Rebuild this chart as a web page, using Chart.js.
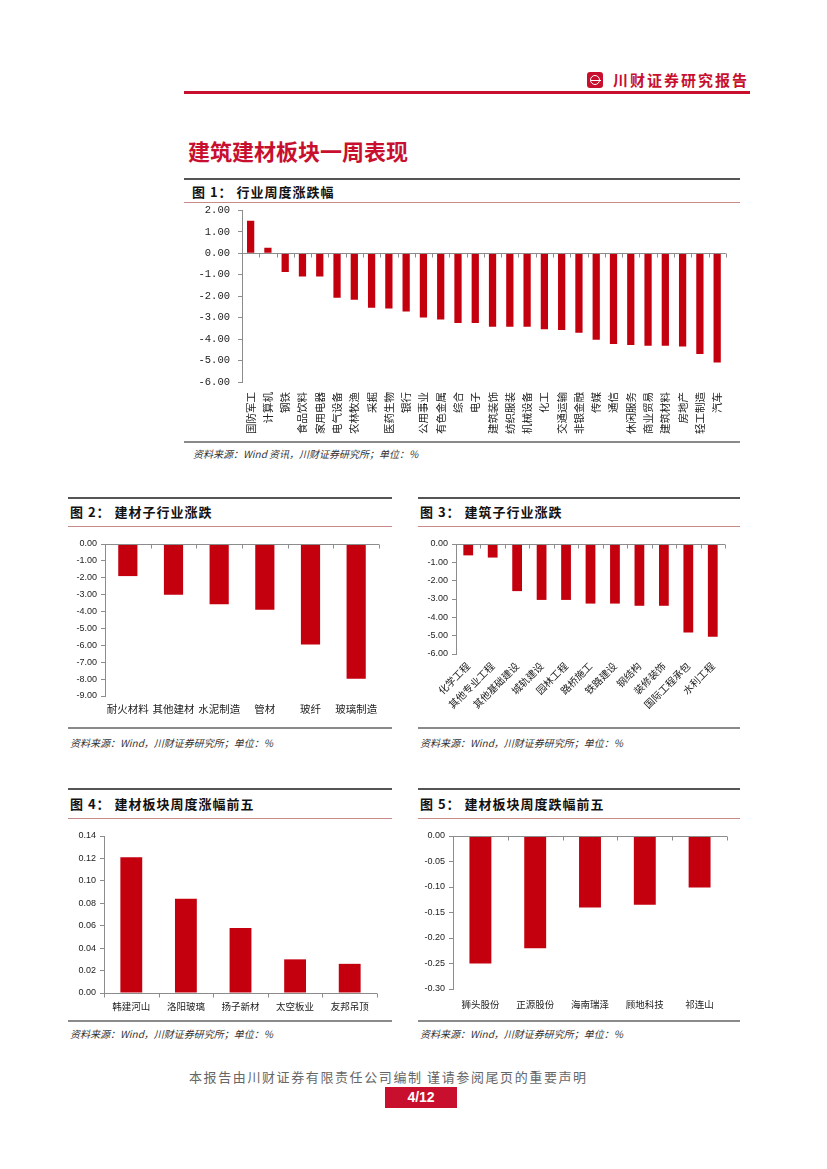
<!DOCTYPE html>
<html>
<head>
<meta charset="utf-8">
<script src="https://cdn.jsdelivr.net/npm/chart.js@4.4.0/dist/chart.umd.min.js"></script>
<style>
  body { margin: 0; background: #fff; }
  #page { position: relative; width: 827px; height: 1169px; background: #fff; overflow: hidden;
          font-family: "Noto Sans CJK SC", "Noto Sans", sans-serif; }
  .abs { position: absolute; }
  .line { position: absolute; }
  .figtitle { position: absolute; font-size: 13px; font-weight: bold; color: #111; letter-spacing: 1px; line-height: 16px; }
  .src { position: absolute; font-size: 10px; font-style: italic; color: #333; line-height: 12px; }
  .box { position: absolute; }
</style>
</head>
<body>
<div id="page">
  <!-- header -->
  <div class="abs" style="left:587px;top:72px;width:16px;height:16px;background:#c8102e;border-radius:3px;"></div>
  <div class="abs" style="left:590px;top:75px;width:8px;height:8px;border:1.5px solid #fff;border-radius:50%;"></div>
  <div class="abs" style="left:591px;top:79.5px;width:10px;height:1.5px;background:#fff;"></div>
  <div class="abs" style="left:613px;top:70px;font-size:15px;color:#c8102e;letter-spacing:2px;line-height:20px;font-weight:bold;">川财证券研究报告</div>
  <div class="line" style="left:184px;top:91px;width:566px;height:3px;background:#c8102e;"></div>

  <div class="abs" style="left:188px;top:136px;font-size:22px;font-weight:bold;color:#c8102e;line-height:28px;">建筑建材板块一周表现</div>

  <!-- figure 1 -->
  <div class="line" style="left:184px;top:178px;width:556px;height:2px;background:#555;"></div>
  <div class="figtitle" style="left:192px;top:184px;">图 1： 行业周度涨跌幅</div>
  <div class="line" style="left:184px;top:202px;width:556px;height:1px;background:#c98a8a;"></div>
  <div class="box" style="left:184px;top:196px;"><canvas id="c1" width="556" height="244"></canvas></div>
  <div class="line" style="left:184px;top:441px;width:556px;height:2px;background:#8a8a8a;"></div>
  <div class="src" style="left:193px;top:448px;">资料来源：Wind 资讯，川财证券研究所；单位：%</div>

  <!-- figure 2 -->
  <div class="line" style="left:68px;top:497px;width:324px;height:2px;background:#555;"></div>
  <div class="figtitle" style="left:70px;top:504px;">图 2： 建材子行业涨跌</div>
  <div class="line" style="left:68px;top:526px;width:324px;height:1px;background:#c98a8a;"></div>
  <div class="box" style="left:68px;top:530px;"><canvas id="c2" width="324" height="190"></canvas></div>
  <div class="line" style="left:68px;top:727px;width:324px;height:2px;background:#8a8a8a;"></div>
  <div class="src" style="left:70px;top:737px;">资料来源：Wind，川财证券研究所；单位：%</div>

  <!-- figure 3 -->
  <div class="line" style="left:418px;top:497px;width:322px;height:2px;background:#555;"></div>
  <div class="figtitle" style="left:420px;top:504px;">图 3： 建筑子行业涨跌</div>
  <div class="line" style="left:418px;top:526px;width:322px;height:1px;background:#c98a8a;"></div>
  <div class="box" style="left:418px;top:530px;"><canvas id="c3" width="322" height="194"></canvas></div>
  <div class="line" style="left:418px;top:727px;width:322px;height:2px;background:#8a8a8a;"></div>
  <div class="src" style="left:420px;top:737px;">资料来源：Wind，川财证券研究所；单位：%</div>

  <!-- figure 4 -->
  <div class="line" style="left:68px;top:788px;width:324px;height:2px;background:#555;"></div>
  <div class="figtitle" style="left:70px;top:796px;">图 4： 建材板块周度涨幅前五</div>
  <div class="line" style="left:68px;top:818px;width:324px;height:1px;background:#c98a8a;"></div>
  <div class="box" style="left:68px;top:822px;"><canvas id="c4" width="324" height="195"></canvas></div>
  <div class="line" style="left:68px;top:1020px;width:324px;height:2px;background:#8a8a8a;"></div>
  <div class="src" style="left:70px;top:1028px;">资料来源：Wind，川财证券研究所；单位：%</div>

  <!-- figure 5 -->
  <div class="line" style="left:418px;top:788px;width:322px;height:2px;background:#555;"></div>
  <div class="figtitle" style="left:420px;top:796px;">图 5： 建材板块周度跌幅前五</div>
  <div class="line" style="left:418px;top:818px;width:322px;height:1px;background:#c98a8a;"></div>
  <div class="box" style="left:418px;top:822px;"><canvas id="c5" width="322" height="195"></canvas></div>
  <div class="line" style="left:418px;top:1020px;width:322px;height:2px;background:#8a8a8a;"></div>
  <div class="src" style="left:420px;top:1028px;">资料来源：Wind，川财证券研究所；单位：%</div>

  <!-- footer -->
  <div class="abs" style="left:189px;top:1069px;font-size:13px;color:#666;letter-spacing:1.6px;line-height:16px;">本报告由川财证券有限责任公司编制 谨请参阅尾页的重要声明</div>
  <div class="abs" style="left:385px;top:1087px;width:72px;height:21px;background:#c8102e;color:#fff;font-family:'Liberation Sans',sans-serif;font-weight:bold;font-size:14px;line-height:21px;text-align:center;">4/12</div>
</div>

<script>
const industryLabels = ['国防军工', '计算机', '钢铁', '食品饮料', '家用电器', '电气设备', '农林牧渔', '采掘',
  '医药生物', '银行', '公用事业', '有色金属', '综合', '电子', '建筑装饰', '纺织服装', '机械设备', '化工',
  '交通运输', '非银金融', '传媒', '通信', '休闲服务', '商业贸易', '建筑材料', '房地产', '轻工制造', '汽车'];
const industryValues = [1.51, 0.25, -0.88, -1.09, -1.09, -2.08, -2.17, -2.54, -2.58, -2.71, -3.0, -3.09,
  -3.25, -3.25, -3.42, -3.42, -3.42, -3.54, -3.58, -3.71, -4.03, -4.23, -4.28, -4.31, -4.31, -4.35, -4.69, -5.09];

const materialLabels = ['耐火材料', '其他建材', '水泥制造', '管材', '玻纤', '玻璃制造'];
const materialValues = [-1.9, -3.0, -3.57, -3.9, -5.95, -7.98];

const buildLabels = ['化学工程', '其他专业工程', '其他基础建设', '城轨建设', '园林工程', '路桥施工',
  '铁路建设', '钢结构', '装修装饰', '国际工程承包', '水利工程'];
const buildValues = [-0.62, -0.74, -2.57, -3.05, -3.05, -3.25, -3.25, -3.37, -3.37, -4.83, -5.06];

const gainLabels = ['韩建河山', '洛阳玻璃', '扬子新材', '太空板业', '友邦吊顶'];
const gainValues = [0.121, 0.084, 0.058, 0.030, 0.026];

const lossLabels = ['狮头股份', '正源股份', '海南瑞泽', '顾地科技', '祁连山'];
const lossValues = [-0.25, -0.22, -0.14, -0.135, -0.101];

const barRed = '#c4000f';
const cjk = '"Noto Sans CJK SC", sans-serif';

// axis line at zero with small category tick marks below it
const zeroAxis = {
  id: 'zeroAxis',
  afterDatasetsDraw(chart) {
    const { ctx, chartArea, scales: { x, y } } = chart;
    const y0 = Math.round(y.getPixelForValue(0)) + 0.5;
    ctx.save();
    ctx.strokeStyle = '#8c8c8c';
    ctx.lineWidth = 1;
    ctx.beginPath();
    ctx.moveTo(chartArea.left, y0);
    ctx.lineTo(chartArea.right, y0);
    const n = chart.data.labels.length;
    for (let i = 0; i <= n; i++) {
      const px = Math.round(x.getPixelForValue(i - 0.5)) + 0.5;
      ctx.moveTo(px, y0);
      ctx.lineTo(px, y0 + 4);
    }
    ctx.stroke();
    ctx.restore();
  }
};

function makeChart(id, o) {
  return new Chart(document.getElementById(id), {
    type: 'bar',
    data: {
      labels: o.labels,
      datasets: [{ data: o.values, backgroundColor: barRed, borderWidth: 0,
                   barPercentage: o.barPct, categoryPercentage: 1 }]
    },
    options: {
      responsive: false,
      animation: false,
      layout: { padding: { top: o.padTop, right: o.padRight, left: 0, bottom: 0 } },
      plugins: { legend: { display: false }, tooltip: { enabled: false } },
      scales: {
        x: {
          grid: { display: false, drawTicks: false },
          border: { display: false },
          ticks: {
            autoSkip: false,
            minRotation: o.rot, maxRotation: o.rot,
            padding: o.xPad,
            color: '#222',
            font: { family: cjk, size: o.xFont }
          },
          afterFit(s) { s.height = o.xHeight; }
        },
        y: {
          min: o.min, max: o.max,
          grid: { drawOnChartArea: false, drawTicks: true, tickLength: 4, color: '#8c8c8c' },
          border: { display: true, color: '#8c8c8c' },
          ticks: {
            stepSize: o.step,
            padding: o.yPad,
            color: '#222',
            font: { family: o.yFamily, size: o.yFont },
            callback: v => Number(v).toFixed(2)
          },
          afterFit(s) { s.width = o.yWidth; }
        }
      }
    },
    plugins: [zeroAxis]
  });
}

makeChart('c1', { labels: industryLabels, values: industryValues, barPct: 0.42, rot: 90,
  min: -6, max: 2, step: 1, padTop: 7, padRight: 13, xHeight: 58, xPad: 10, xFont: 10.5,
  yWidth: 58, yPad: 8, yFont: 10.5, yFamily: '"Liberation Mono", monospace' });

makeChart('c2', { labels: materialLabels, values: materialValues, barPct: 0.42, rot: 0,
  min: -9, max: 0, step: 1, padTop: 14, padRight: 13, xHeight: 24, xPad: 7, xFont: 10.5,
  yWidth: 37, yPad: 4, yFont: 9, yFamily: '"Liberation Sans", sans-serif' });

makeChart('c3', { labels: buildLabels, values: buildValues, barPct: 0.4, rot: 45,
  min: -6, max: 0, step: 1, padTop: 14, padRight: 15, xHeight: 70, xPad: 6, xFont: 10,
  yWidth: 38, yPad: 4, yFont: 9, yFamily: '"Liberation Sans", sans-serif' });

makeChart('c4', { labels: gainLabels, values: gainValues, barPct: 0.4, rot: 0,
  min: 0, max: 0.14, step: 0.02, padTop: 14, padRight: 15, xHeight: 24, xPad: 8, xFont: 9.5,
  yWidth: 36, yPad: 4, yFont: 9, yFamily: '"Liberation Sans", sans-serif' });

makeChart('c5', { labels: lossLabels, values: lossValues, barPct: 0.4, rot: 0,
  min: -0.3, max: 0, step: 0.05, padTop: 14, padRight: 13, xHeight: 28, xPad: 10, xFont: 9.5,
  yWidth: 35, yPad: 4, yFont: 9, yFamily: '"Liberation Sans", sans-serif' });
</script>
</body>
</html>
